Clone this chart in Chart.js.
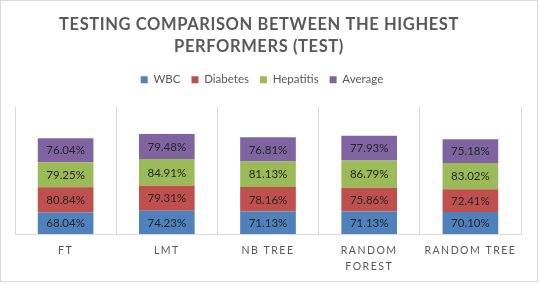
<!DOCTYPE html>
<html>
<head>
<meta charset="utf-8">
<script src="https://cdn.jsdelivr.net/npm/chart.js@4.4.1/dist/chart.umd.min.js"></script>
<style>
  body { margin: 0; background: #fff; }
  .frame { position: absolute; left: 0; top: 0; width: 536px; height: 280px; border: 1px solid #d9d9d9; }
  .box { position: relative; width: 536px; height: 280px; }
</style>
</head>
<body>
<div class="frame"><div class="box"><canvas id="chart"></canvas></div></div>
<script>
const categories = ['FT', 'LMT', 'NB TREE', ['RANDOM', 'FOREST'], 'RANDOM TREE'];
const wbc = [68.04, 74.23, 71.13, 71.13, 70.10];
const diabetes = [80.84, 79.31, 78.16, 75.86, 72.41];
const hepatitis = [79.25, 84.91, 81.13, 86.79, 83.02];
const average = [76.04, 79.48, 76.81, 77.93, 75.18];

const textGray = '#595959';

// letter spacing / small horizontal nudge for title, legend and category labels
function tweakDraw(obj, method, spacing, dx) {
  if (!obj || obj['_tweaked_' + method]) return;
  const orig = obj[method];
  obj[method] = function (...args) {
    const ctx = this.ctx;
    ctx.save();
    ctx.letterSpacing = spacing;
    ctx.translate(dx, 0);
    orig.apply(this, args);
    ctx.restore();
  };
  obj['_tweaked_' + method] = true;
}

const spacedText = {
  id: 'spacedText',
  beforeInit(chart) {
    // extra room under the legend
    const fit = chart.legend.fit;
    chart.legend.fit = function () {
      fit.call(this);
      this.height += 11;
    };
  },
  afterLayout(chart) {
    tweakDraw(chart.titleBlock, 'draw', '0.6px', -9);
    tweakDraw(chart.legend, 'draw', '0px', -6);
    tweakDraw(chart.scales.x, 'drawLabels', '1.5px', 0);
  }
};

const segmentLabels = {
  id: 'segmentLabels',
  afterDatasetsDraw(chart) {
    const { ctx } = chart;
    ctx.save();
    ctx.font = '11.5px Lato';
    ctx.fillStyle = '#262626';
    ctx.textAlign = 'center';
    ctx.textBaseline = 'middle';
    chart.data.datasets.forEach((ds, i) => {
      chart.getDatasetMeta(i).data.forEach((bar, j) => {
        const { x, y, base } = bar.getProps(['x', 'y', 'base'], true);
        ctx.fillText(ds.data[j].toFixed(2) + '%', x, (y + base) / 2 + 0.5);
      });
    });
    ctx.restore();
  }
};

const series = [
  { label: 'WBC', data: wbc, color: '#4f81bd' },
  { label: 'Diabetes', data: diabetes, color: '#c0504d' },
  { label: 'Hepatitis', data: hepatitis, color: '#9bbb59' },
  { label: 'Average', data: average, color: '#8064a2' },
];

new Chart(document.getElementById('chart'), {
  type: 'bar',
  data: {
    labels: categories,
    datasets: series.map((s) => ({
      label: s.label,
      data: s.data,
      backgroundColor: s.color,
      borderWidth: 0,
      categoryPercentage: 1,
      barPercentage: 0.55,
    })),
  },
  options: {
    responsive: true,
    maintainAspectRatio: false,
    animation: false,
    layout: { padding: { top: 0, left: 14, right: 16, bottom: -3 } },
    plugins: {
      title: {
        display: true,
        text: ['TESTING COMPARISON BETWEEN THE HIGHEST', 'PERFORMERS (TEST)'],
        color: textGray,
        font: { family: 'Lato', size: 16.5, weight: 'bold', lineHeight: '22px' },
        padding: { top: 13, bottom: 5 },
      },
      legend: {
        position: 'top',
        labels: {
          color: textGray,
          font: { family: 'Lato', size: 11.5 },
          boxWidth: 7,
          boxHeight: 7,
          padding: 11,
        },
      },
      tooltip: { enabled: false },
    },
    scales: {
      x: {
        stacked: true,
        grid: { color: '#d9d9d9', offset: true, drawTicks: false },
        border: { color: '#d9d9d9' },
        ticks: {
          color: textGray,
          font: { family: 'Lato', size: 10.5, lineHeight: '16px' },
          padding: 9,
          maxRotation: 0,
          autoSkip: false,
        },
      },
      y: {
        stacked: true,
        display: false,
        min: 0,
        max: 405,
      },
    },
  },
  plugins: [spacedText, segmentLabels],
});
</script>
</body>
</html>
